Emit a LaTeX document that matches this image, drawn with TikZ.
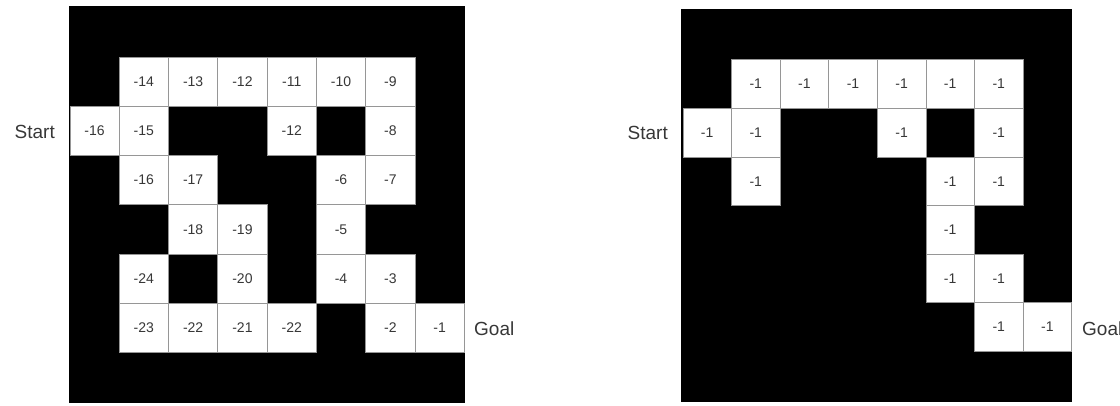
\documentclass[tikz,border=0pt]{standalone}
\usepackage{fontspec}
\setmainfont{Liberation Sans}
\definecolor{txt}{RGB}{55,55,55}
\definecolor{edge}{RGB}{150,150,150}
\begin{document}
\begin{tikzpicture}[x=1pt,y=-1pt,
  lcell/.style={draw=edge,line width=0.8pt,fill=white,inner sep=0pt,anchor=north west,
    minimum width=49.3pt,minimum height=49.2pt,text=txt,font=\fontsize{14}{16}\selectfont},
  rcell/.style={lcell,minimum width=48.6pt,minimum height=48.6pt},
  lab/.style={inner sep=0pt,text=txt,font=\fontsize{19}{22}\selectfont}]
\useasboundingbox (0,0) rectangle (1120,405);
\clip (0,0) rectangle (1120,405);
% left maze
\fill[black] (69.3,6) rectangle (464.5,403);
\foreach \r/\c/\v in {1/1/-14,1/2/-13,1/3/-12,1/4/-11,1/5/-10,1/6/-9,
  2/0/-16,2/1/-15,2/4/-12,2/6/-8,
  3/1/-16,3/2/-17,3/5/-6,3/6/-7,
  4/2/-18,4/3/-19,4/5/-5,
  5/1/-24,5/3/-20,5/5/-4,5/6/-3,
  6/1/-23,6/2/-22,6/3/-21,6/4/-22,6/6/-2,6/7/-1}
  \node[lcell] (L-\r-\c) at ({69.5+49.3*\c},{56.7+49.2*(\r-1)}) {\v};
\node[lab,anchor=east] (startL) at (55,131.5) {Start};
\node[lab,anchor=west] (goalL) at (474,329) {Goal};
% right maze
\fill[black] (681,9.3) rectangle (1072.3,402.3);
\foreach \r/\c in {1/1,1/2,1/3,1/4,1/5,1/6,
  2/0,2/1,2/4,2/6,
  3/1,3/5,3/6,
  4/5,
  5/5,5/6,
  6/6,6/7}
  \node[rcell] (R-\r-\c) at ({682.5+48.6*\c},{59.3+48.6*(\r-1)}) {-1};
\node[lab,anchor=east] (startR) at (668,133) {Start};
\node[lab,anchor=west] (goalR) at (1082,329) {Goal};
\end{tikzpicture}
\end{document}
